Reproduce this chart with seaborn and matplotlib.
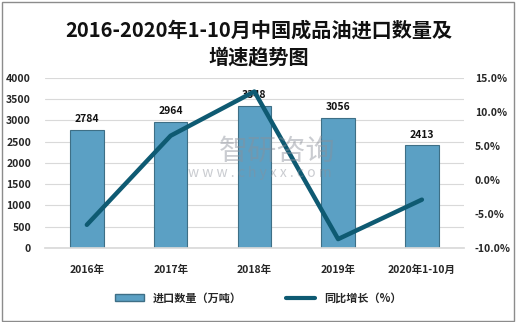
import matplotlib
matplotlib.use("Agg")
import matplotlib.pyplot as plt
import seaborn as sns
import pandas as pd
from matplotlib.patches import Patch, Rectangle
from matplotlib.lines import Line2D
from matplotlib.ticker import FuncFormatter, MultipleLocator

categories = ["2016年", "2017年", "2018年", "2019年", "2020年1-10月"]
imports = [2784, 2964, 3348, 3056, 2413]
growth = [-6.6, 6.5, 13.0, -8.7, -2.9]

sns.set_theme(style="white")
plt.rcParams['font.family'] = ['Noto Sans CJK SC', 'DejaVu Sans']

df = pd.DataFrame({"cat": categories, "imp": imports, "g": growth})

fig = plt.figure(figsize=(5.17, 3.22), dpi=100)
ax = fig.add_axes([0.087, 0.23, 0.81, 0.528])

sns.barplot(data=df, x="cat", y="imp", ax=ax, color="#5ba0c4", width=0.4,
            edgecolor="#3e6f86", linewidth=0.8, saturation=1)
ax.set_ylim(0, 4000)
ax.yaxis.set_major_locator(MultipleLocator(500))
ax.grid(axis="y", color="#d9d9d9", linewidth=0.8)
ax.set_axisbelow(True)
for c in ax.containers:
    ax.bar_label(c, labels=[str(v) for v in imports], padding=4, fontsize=7.5,
                 fontweight="bold", color="#111111")
ax.set_xlabel("")
ax.set_ylabel("")
for s in ax.spines.values():
    s.set_visible(False)
ax.spines["bottom"].set_visible(True)
ax.spines["bottom"].set_color("#d9d9d9")
ax.tick_params(axis="both", length=0, labelsize=7.5, pad=10)
for lab in ax.get_yticklabels() + ax.get_xticklabels():
    lab.set_fontweight("bold")
ax.tick_params(axis="x", pad=12)

ax2 = ax.twinx()
sns.lineplot(data=df, x="cat", y="g", ax=ax2, color="#0e5a72", linewidth=3.2,
             sort=False)
ax2.set_ylim(-10, 15)
ax.set_xlim(-0.5, len(categories) - 0.5)
ax2.set_xlim(-0.5, len(categories) - 0.5)
ax2.yaxis.set_major_locator(MultipleLocator(5))
ax2.yaxis.set_major_formatter(FuncFormatter(lambda v, p: f"{v:.1f}%"))
ax2.set_ylabel("")
ax2.set_xlabel("")
for s in ax2.spines.values():
    s.set_visible(False)
ax2.tick_params(axis="y", length=0, labelsize=7.5, pad=8)
for lab in ax2.get_yticklabels():
    lab.set_fontweight("bold")
ax2.grid(False)

# watermark
fig.text(0.535, 0.528, "智研咨询", fontsize=21, color="#8a8f99", alpha=0.45,
         ha="center", va="center")
fig.text(0.502, 0.463, "w w w . c h y x x . c o m", fontsize=10, color="#8a8f99",
         alpha=0.45, ha="center", va="center")

fig.text(0.5, 0.865, "2016-2020年1-10月中国成品油进口数量及\n增速趋势图", ha="center",
         va="center", fontsize=14.5, fontweight="bold", linespacing=1.3,
         color="#111111")

handles = [Patch(facecolor="#5ba0c4", edgecolor="#3e6f86", label="进口数量（万吨）"),
           Line2D([0], [0], color="#0e5a72", linewidth=3, label="同比增长（%）")]
fig.legend(handles=handles, loc="center", bbox_to_anchor=(0.5, 0.075), ncol=2,
           frameon=False, handlelength=2.6, handleheight=0.5,
           columnspacing=4, prop={"weight": "bold", "size": 8})

fig.patches.append(Rectangle((0.003, 0.004), 0.992, 0.99, transform=fig.transFigure,
                             fill=False, edgecolor="#8c8c8c", linewidth=1))

fig.savefig("out.png", dpi=100)
